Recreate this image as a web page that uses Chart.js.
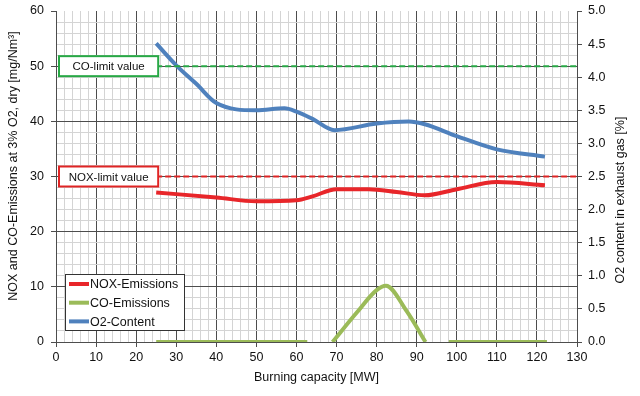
<!DOCTYPE html>
<html>
<head>
<meta charset="utf-8">
<script src="https://cdn.jsdelivr.net/npm/chart.js@4.4.0/dist/chart.umd.min.js"></script>
<style>
  html, body { margin: 0; padding: 0; background: #fff; }
</style>
</head>
<body>
<canvas id="myChart" width="640" height="396"></canvas>
<script>
// values, x = burning capacity [MW]
var noxX = [25, 40, 50, 60, 64, 70, 78, 85, 92, 100, 110, 122];
var noxY = [27.1, 26.2, 25.5, 25.7, 26.4, 27.7, 27.7, 27.2, 26.6, 27.7, 29.0, 28.4];

// null = no value (gap in the line)
var coX = [25, 62.7, 65, 69, 75, 80, 82.3, 87.5, 92.2, 95, 98, 122.5];
var coY = [0, 0, null, 0, 5.3, 9.4, 10.2, 5.6, 0, null, 0, 0];

var o2X = [25, 30, 35, 40, 50, 57, 60, 64, 69.5, 80, 88, 92, 100, 110, 122];
var o2Y = [4.51, 4.18, 3.90, 3.61, 3.50, 3.53, 3.48, 3.37, 3.20, 3.30, 3.33, 3.29, 3.11, 2.91, 2.80];

var limitX = [25, 130];
var coLimit = 50;
var noxLimit = 30;

var leftTitle = "NOX and CO-Emissions at 3% O2, dry [mg/Nm³]";
var rightTitle = "O2 content in exhaust gas [%]";
var bottomTitle = "Burning capacity [MW]";

var FONT = "'Liberation Sans', Arial, sans-serif";
var dark = '#4d4d4d';
var light = '#d4d4d4';
var textColor = '#111';

function toPoints(xs, ys) {
    return xs.map(function (x, i) { return { x: x, y: ys[i] }; });
}

function gridColor(ctx, top) {
    var v = ctx.tick.value;
    if (top !== undefined && v === top) return 'rgba(0,0,0,0)';
    return v % 10 === 0 ? dark : light;
}

var limitLabels = [
    { text: 'CO-limit value', value: coLimit, color: '#27a845' },
    { text: 'NOX-limit value', value: noxLimit, color: '#e02424' }
];

function sideTitle(c, text, x, y) {
    c.save();
    c.translate(x, y);
    c.rotate(-Math.PI / 2);
    c.font = '12.5px ' + FONT;
    c.fillStyle = textColor;
    c.textAlign = 'center';
    c.textBaseline = 'middle';
    c.fillText(text, 0, 0);
    c.restore();
}

// draws limit label boxes, the legend box and the two side titles
var extras = {
    id: 'extras',
    afterDatasetsDraw: function (chart) {
        var c = chart.ctx;
        var xs = chart.scales.x, ys = chart.scales.y;
        var area = chart.chartArea;
        c.save();
        // limit labels
        c.font = '11.5px ' + FONT;
        c.textAlign = 'center';
        c.textBaseline = 'middle';
        limitLabels.forEach(function (l) {
            var x0 = xs.getPixelForValue(0) + 3;
            var x1 = xs.getPixelForValue(limitX[0]) + 2;
            var yc = ys.getPixelForValue(l.value);
            c.fillStyle = '#fff';
            c.fillRect(x0, yc - 10, x1 - x0, 20);
            c.strokeStyle = l.color;
            c.lineWidth = 2;
            c.strokeRect(x0, yc - 10, x1 - x0, 20);
            c.fillStyle = textColor;
            c.fillText(l.text, (x0 + x1) / 2, yc + 1);
        });
        // legend
        var items = chart.data.datasets.filter(function (d) { return d.inLegend; });
        var lx = area.left + 9, ly = area.bottom - 68, lw = 119, lh = 56;
        c.fillStyle = '#fff';
        c.fillRect(lx, ly, lw, lh);
        c.strokeStyle = '#333';
        c.lineWidth = 1;
        c.strokeRect(lx + 0.5, ly + 0.5, lw, lh);
        c.font = '12.5px ' + FONT;
        c.textAlign = 'left';
        items.forEach(function (d, i) {
            var y = ly + 10 + i * 18.7;
            c.strokeStyle = d.borderColor;
            c.lineWidth = 4;
            c.beginPath();
            c.moveTo(lx + 4, y);
            c.lineTo(lx + 24, y);
            c.stroke();
            c.fillStyle = textColor;
            c.fillText(d.label, lx + 25, y + 1);
        });
        c.restore();
    },
    afterDraw: function (chart) {
        sideTitle(chart.ctx, leftTitle, 14, 166);
        sideTitle(chart.ctx, rightTitle, 621, 200);
    }
};

// fixed axis width, no extra room for the top/bottom tick labels
function fixWidth(w) {
    return function (s) {
        s.width = w;
        s.paddingTop = 0;
        s.paddingBottom = 0;
    };
}

var ctx = document.getElementById('myChart').getContext('2d');
var myChart = new Chart(ctx, {
    type: 'line',
    data: {
        datasets: [{
            label: 'CO-limit',
            data: toPoints(limitX, [coLimit, coLimit]),
            borderColor: '#27a845',
            borderWidth: 2,
            borderDash: [6, 3],
            pointRadius: 0,
            yAxisID: 'y'
        }, {
            label: 'NOX-limit',
            data: toPoints(limitX, [noxLimit, noxLimit]),
            borderColor: '#e02424',
            borderWidth: 2,
            borderDash: [6, 3],
            pointRadius: 0,
            yAxisID: 'y'
        }, {
            label: 'NOX-Emissions',
            inLegend: true,
            data: toPoints(noxX, noxY),
            borderColor: '#e8262a',
            borderWidth: 4,
            pointRadius: 0,
            cubicInterpolationMode: 'monotone',
            yAxisID: 'y'
        }, {
            label: 'CO-Emissions',
            inLegend: true,
            data: toPoints(coX, coY),
            borderColor: '#9bbb59',
            borderWidth: 4,
            pointRadius: 0,
            spanGaps: false,
            clip: 0,
            cubicInterpolationMode: 'monotone',
            yAxisID: 'y'
        }, {
            label: 'O2-Content',
            inLegend: true,
            data: toPoints(o2X, o2Y),
            borderColor: '#4f81bd',
            borderWidth: 4,
            pointRadius: 0,
            cubicInterpolationMode: 'monotone',
            yAxisID: 'y2'
        }]
    },
    options: {
        responsive: false,
        animation: false,
        devicePixelRatio: 1,
        layout: { padding: { top: 11, left: 0, right: 0, bottom: 0 } },
        plugins: {
            legend: { display: false },
            tooltip: { enabled: false }
        },
        scales: {
            x: {
                type: 'linear',
                min: 0,
                max: 130,
                afterFit: function (s) { s.height = 54; },
                ticks: {
                    stepSize: 2,
                    autoSkip: false,
                    maxRotation: 0,
                    padding: 3,
                    color: textColor,
                    font: { family: FONT, size: 12.5 },
                    callback: function (v) { return v % 10 === 0 ? v : ''; }
                },
                grid: {
                    color: function (c) { return gridColor(c); },
                    tickColor: function (c) { return c.tick.value % 10 === 0 ? dark : 'rgba(0,0,0,0)'; },
                    tickLength: 5
                },
                border: { color: dark },
                title: {
                    display: true,
                    text: bottomTitle,
                    color: textColor,
                    font: { family: FONT, size: 12.5 },
                    padding: { top: 0, bottom: 11 }
                }
            },
            y: {
                position: 'left',
                min: 0,
                max: 60,
                afterFit: fixWidth(56),
                ticks: {
                    stepSize: 2,
                    autoSkip: false,
                    padding: 7,
                    color: textColor,
                    font: { family: FONT, size: 12.5 },
                    callback: function (v) { return v % 10 === 0 ? v : ''; }
                },
                grid: {
                    color: function (c) { return gridColor(c, 60); },
                    tickColor: function (c) { return c.tick.value % 10 === 0 ? dark : 'rgba(0,0,0,0)'; },
                    tickLength: 5
                },
                border: { color: dark }
            },
            y2: {
                position: 'right',
                min: 0,
                max: 5,
                afterFit: fixWidth(63),
                ticks: {
                    stepSize: 0.5,
                    padding: 6,
                    color: textColor,
                    font: { family: FONT, size: 12.5 },
                    callback: function (v) { return v.toFixed(1); }
                },
                grid: {
                    drawOnChartArea: false,
                    tickColor: dark,
                    tickLength: 5
                },
                border: { color: dark }
            }
        }
    },
    plugins: [extras]
});
</script>
</body>
</html>
